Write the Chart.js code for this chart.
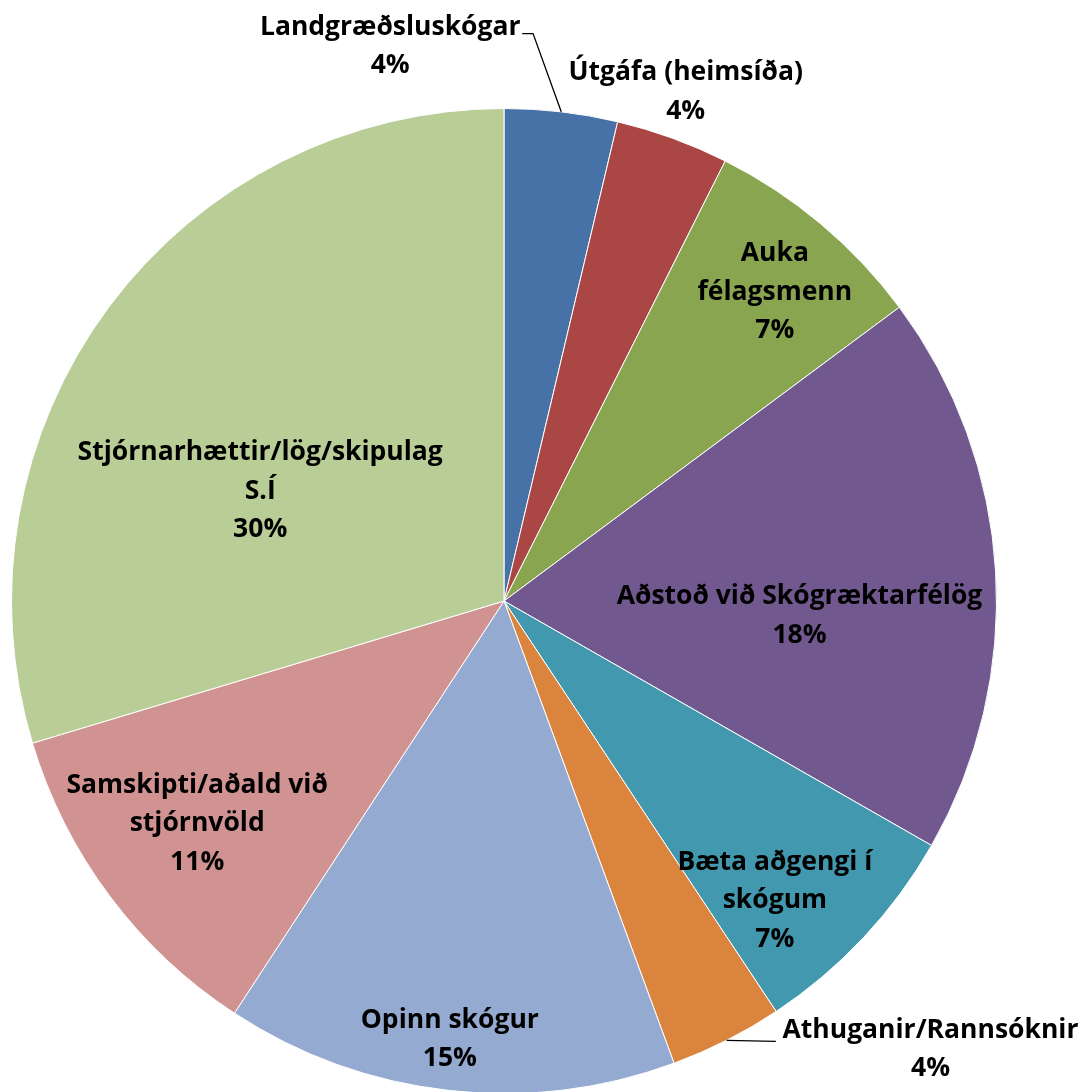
<!DOCTYPE html>
<html>
<head>
<meta charset="utf-8">
<script src="https://cdn.jsdelivr.net/npm/chart.js@4"></script>
<style>
  html, body { margin: 0; padding: 0; background: #fff; overflow: hidden; }
  #wrap { width: 1084px; height: 1100px; }
</style>
</head>
<body>
<div id="wrap"><canvas id="pieChart" width="1084" height="1100"></canvas></div>
<script>
// categories (multi-line labels) and values
const categories = [
    ['Landgræðsluskógar'],
    ['Útgáfa (heimsíða)'],
    ['Auka', 'félagsmenn'],
    ['Aðstoð við Skógræktarfélög'],
    ['Bæta aðgengi í', 'skógum'],
    ['Athuganir/Rannsóknir'],
    ['Opinn skógur'],
    ['Samskipti/aðald við', 'stjórnvöld'],
    ['Stjórnarhættir/lög/skipulag', 'S.Í']
];
const values = [3.7, 3.7, 7.4, 18.4, 7.4, 3.7, 14.8, 11.1, 29.6];
const colors = ['#4672A8', '#AA4644', '#8AA54F', '#71598F', '#4298AF',
                '#DB843D', '#95AAD0', '#D19392', '#B9CD96'];

// label block centres, in units of the pie radius from its centre
const labelPos = [
    [-0.231, -1.126], [0.369, -1.034], [0.550, -0.627],
    [0.600, 0.030], [0.550, 0.609], [0.866, 0.911],
    [-0.110, 0.890], [-0.623, 0.452], [-0.495, -0.223]
];
// leader lines: elbow point and end of line (radius units)
const leaders = {
    0: [[0.059, -1.152], [0.037, -1.152]],
    5: [[0.552, 0.894], [0.552, 0.894]]
};

const total = values.reduce((a, b) => a + b, 0);

const labelPlugin = {
    id: 'sliceLabels',
    afterDatasetsDraw(chart) {
        const ctx = chart.ctx;
        const arcs = chart.getDatasetMeta(0).data;
        ctx.save();
        ctx.font = 'bold 26.5px "Open Sans", Lato, sans-serif';
        ctx.fillStyle = '#000';
        ctx.textAlign = 'center';
        ctx.textBaseline = 'middle';
        arcs.forEach(function(arc, i) {
            const p = arc.getProps(['x', 'y', 'startAngle', 'endAngle', 'outerRadius'], true);
            const R = p.outerRadius;
            const lines = categories[i].concat([Math.round(values[i] / total * 100) + '%']);
            const cx = p.x + labelPos[i][0] * R;
            const cy = p.y + labelPos[i][1] * R;
            const lh = 38.5;
            lines.forEach(function(t, k) {
                ctx.fillText(t, cx, cy - (lines.length - 1) * lh / 2 + k * lh);
            });

            // leader line from slice edge
            if (leaders[i]) {
                const mid = (p.startAngle + p.endAngle) / 2;
                const ex = p.x + Math.cos(mid) * R;
                const ey = p.y + Math.sin(mid) * R;
                ctx.beginPath();
                ctx.strokeStyle = '#000';
                ctx.lineWidth = 1.3;
                ctx.moveTo(ex, ey);
                const elbow = leaders[i][0];
                const end = leaders[i][1];
                ctx.lineTo(p.x + elbow[0] * R, p.y + elbow[1] * R);
                ctx.lineTo(p.x + end[0] * R, p.y + end[1] * R);
                ctx.stroke();
            }
        });
        ctx.restore();
    }
};

document.addEventListener('DOMContentLoaded', function() {
    const ctx = document.getElementById('pieChart').getContext('2d');
    const pieChart = new Chart(ctx, {
        type: 'pie',
        data: {
            labels: categories,
            datasets: [
                {
                    data: values,
                    backgroundColor: colors,
                    borderColor: '#ffffff',
                    borderWidth: 1
                }
            ]
        },
        options: {
            responsive: false,
            animation: false,
            layout: {
                padding: { left: 11, right: 87, top: 108, bottom: 6 }
            },
            plugins: {
                legend: { display: false },
                tooltip: { enabled: false }
            }
        },
        plugins: [labelPlugin]
    });
});
</script>
</body>
</html>
